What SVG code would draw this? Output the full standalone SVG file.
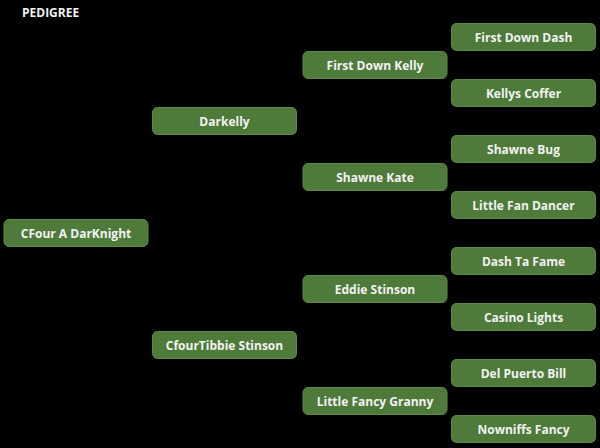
<svg xmlns="http://www.w3.org/2000/svg" width="600" height="448" viewBox="0 0 600 448">
<style>
.n rect{fill:#4e7a3a;stroke:#5d8a46;stroke-width:1}
text{font-family:"Open Sans","Liberation Sans",sans-serif;font-weight:bold;font-size:12px;fill:#f2f2f2;text-anchor:middle;dominant-baseline:central}
</style>
<rect width="600" height="448" fill="#000"/>
<text x="22" y="12" style="text-anchor:start">PEDIGREE</text>
<g id="connectors"/>
<g id="n0" class="n"><rect x="4" y="219.5" width="144" height="27" rx="5"/><text x="76" y="233">CFour A DarKnight</text></g>
<g id="n1" class="n"><rect x="152.5" y="107.5" width="144" height="27" rx="5"/><text x="224.5" y="121">Darkelly</text></g>
<g id="n2" class="n"><rect x="152.5" y="331.5" width="144" height="27" rx="5"/><text x="224.5" y="345">CfourTibbie Stinson</text></g>
<g id="n3" class="n"><rect x="303" y="51.5" width="144" height="27" rx="5"/><text x="375" y="65">First Down Kelly</text></g>
<g id="n4" class="n"><rect x="303" y="163.5" width="144" height="27" rx="5"/><text x="375" y="177">Shawne Kate</text></g>
<g id="n5" class="n"><rect x="303" y="275.5" width="144" height="27" rx="5"/><text x="375" y="289">Eddie Stinson</text></g>
<g id="n6" class="n"><rect x="303" y="387.5" width="144" height="27" rx="5"/><text x="375" y="401">Little Fancy Granny</text></g>
<g id="n7" class="n"><rect x="451.5" y="23.5" width="144" height="27" rx="5"/><text x="523.5" y="37">First Down Dash</text></g>
<g id="n8" class="n"><rect x="451.5" y="79.5" width="144" height="27" rx="5"/><text x="523.5" y="93">Kellys Coffer</text></g>
<g id="n9" class="n"><rect x="451.5" y="135.5" width="144" height="27" rx="5"/><text x="523.5" y="149">Shawne Bug</text></g>
<g id="n10" class="n"><rect x="451.5" y="191.5" width="144" height="27" rx="5"/><text x="523.5" y="205">Little Fan Dancer</text></g>
<g id="n11" class="n"><rect x="451.5" y="247.5" width="144" height="27" rx="5"/><text x="523.5" y="261">Dash Ta Fame</text></g>
<g id="n12" class="n"><rect x="451.5" y="303.5" width="144" height="27" rx="5"/><text x="523.5" y="317">Casino Lights</text></g>
<g id="n13" class="n"><rect x="451.5" y="359.5" width="144" height="27" rx="5"/><text x="523.5" y="373">Del Puerto Bill</text></g>
<g id="n14" class="n"><rect x="451.5" y="415.5" width="144" height="27" rx="5"/><text x="523.5" y="429">Nowniffs Fancy</text></g>
</svg>
